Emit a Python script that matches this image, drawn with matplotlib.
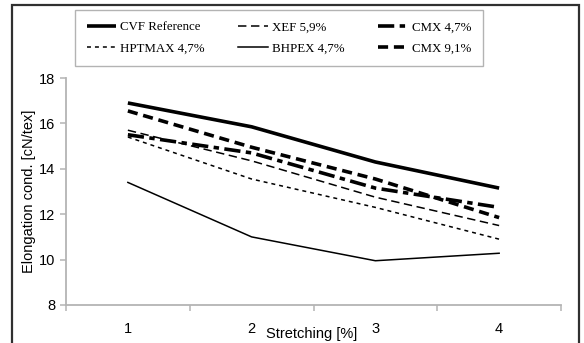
import matplotlib.pyplot as plt
import numpy as np
from matplotlib.patches import Rectangle
from matplotlib.ticker import FixedLocator, NullFormatter

# categories on the x axis
stretching = [1, 2, 3, 4]

# elongation values
cvf_ref = [16.9, 15.85, 14.3, 13.15]
xef_59 = [15.7, 14.35, 12.75, 11.5]
cmx_47 = [15.5, 14.7, 13.15, 12.3]
hptmax_47 = [15.4, 13.55, 12.3, 10.9]
bhpex_47 = [13.4, 11.0, 9.95, 10.28]
cmx_91 = [16.55, 14.95, 13.55, 11.85]

W, H = 584, 343
fig = plt.figure(figsize=(W / 100, H / 100), dpi=100)

def fx(px):
    return px / W

def fy(py):
    return 1 - py / H

# plot area in pixels: left 66, right 561, top (18) 78, bottom (8) 305
ax = fig.add_axes([fx(66), fy(305), fx(561) - fx(66), fy(78) - fy(305)])

x = np.array(stretching)
ax.plot(x, cvf_ref, color='black', lw=2.6, solid_capstyle='butt', label='CVF Reference')
ax.plot(x, hptmax_47, color='black', lw=1.1, dashes=(2.6, 2.6), label='HPTMAX 4,7%')
ax.plot(x, xef_59, color='black', lw=1.1, dashes=(5.5, 3), label='XEF 5,9%')
ax.plot(x, bhpex_47, color='black', lw=1.1, label='BHPEX 4,7%')
ax.plot(x, cmx_47, color='black', lw=2.6, dashes=(4.5, 1.5, 1.5, 1.5), label='CMX 4,7%')
ax.plot(x, cmx_91, color='black', lw=2.6, dashes=(2.8, 1.6), label='CMX 9,1%')

ax.set_xlim(0.5, 4.5)
ax.set_ylim(8, 18)
ax.set_yticks([8, 10, 12, 14, 16, 18])

# category axis: ticks between categories, labels at the centres
ax.xaxis.set_major_locator(FixedLocator([0.5, 1.5, 2.5, 3.5, 4.5]))
ax.xaxis.set_major_formatter(NullFormatter())
ax.xaxis.set_minor_locator(FixedLocator(stretching))
ax.set_xticklabels([str(s) for s in stretching], minor=True)
ax.tick_params(axis='x', which='minor', length=0, pad=12)

axis_grey = '#b4b4b4'
for side in ['top', 'right']:
    ax.spines[side].set_visible(False)
for side in ['left', 'bottom']:
    ax.spines[side].set_color(axis_grey)
    ax.spines[side].set_linewidth(1.3)
ax.tick_params(axis='both', which='major', color=axis_grey, width=1.1, length=4,
               labelsize=10.5)
ax.tick_params(axis='x', which='minor', labelsize=10.5)
for lab in ax.get_yticklabels() + ax.get_xticklabels(minor=True):
    lab.set_fontfamily('Liberation Sans')

ax.set_ylabel('Elongation cond. [cN/tex]', fontsize=10.5, family='Liberation Sans', labelpad=2)
fig.text(fx(312), fy(334), 'Stretching [%]', ha='center', va='center',
         fontsize=10.5, family='Liberation Sans')

# legend box centred around x 279, y 38
leg = ax.legend(ncol=3, loc='center', bbox_to_anchor=(fx(279), fy(38)),
                bbox_transform=fig.transFigure, frameon=True, fancybox=False,
                prop={'family': 'Liberation Serif', 'size': 9.3},
                handlelength=2.3, handletextpad=0.3, columnspacing=2.6,
                labelspacing=0.7, borderpad=0.9, borderaxespad=0)
leg.get_frame().set_edgecolor('#a0a0a0')
leg.get_frame().set_linewidth(1.0)

# outer border of the chart
fig.patches.append(Rectangle((fx(12), -0.05), fx(579) - fx(12), fy(5) + 0.05,
                             transform=fig.transFigure, fill=False,
                             edgecolor='#303030', lw=1.6))

fig.savefig('out.png', dpi=100)
